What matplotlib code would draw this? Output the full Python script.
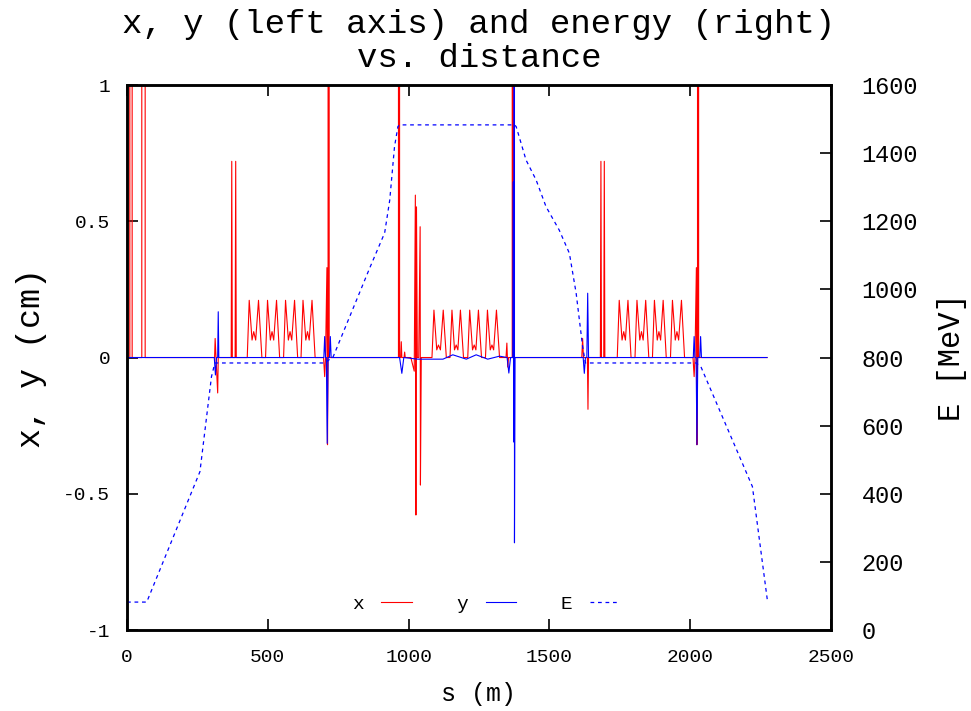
import matplotlib.pyplot as plt
import numpy as np

plt.rcParams.update({
    "font.family": ["Liberation Mono", "DejaVu Sans Mono"],
    "axes.unicode_minus": False,
    "xtick.direction": "in",
    "ytick.direction": "in",
})

# horizontal orbit x (cm) vs s (m)
s_x = [0, 10, 10.6, 17.7, 18.3, 52.5, 53, 64, 64.5,
       311, 313, 316, 322, 324,
       370, 372, 374, 384, 386, 388,
       427, 434, 444, 450, 457, 467, 479,
       492, 499, 509, 515, 521, 531, 542,
       556, 563, 573, 579, 585, 595, 606,
       618, 625, 635, 641, 647, 657, 668,
       698, 702, 705, 710, 712, 714, 716, 718,
       964, 966, 968, 972, 974, 976, 984, 986, 988,
       1008, 1020, 1024, 1026, 1028, 1031, 1036, 1041, 1042, 1045,
       1083, 1090, 1100, 1106, 1113, 1123, 1134,
       1147, 1154, 1163, 1169, 1175, 1184, 1195,
       1210, 1217, 1227, 1233, 1239, 1248, 1259,
       1273, 1280, 1290, 1296, 1302, 1312, 1323,
       1346, 1349, 1352, 1355, 1368, 1370, 1372,
       1615, 1618, 1621, 1635, 1637, 1639,
       1681, 1683, 1685, 1693, 1695, 1697,
       1741, 1748, 1758, 1764, 1770, 1779, 1790,
       1804, 1811, 1821, 1827, 1833, 1842, 1853,
       1866, 1873, 1883, 1889, 1895, 1904, 1915,
       1930, 1937, 1947, 1953, 1959, 1969, 1980,
       2010, 2014, 2017, 2022, 2024, 2026, 2028, 2030,
       2273]
x_cm = [0, 0, 50, 50, 0, 0, 50, 50, 0,
        0, 0.07, 0, -0.13, 0,
        0, 0.72, 0, 0, 0.72, 0,
        0, 0.21, 0.064, 0.095, 0.064, 0.21, 0,
        0, 0.21, 0.064, 0.095, 0.064, 0.21, 0,
        0, 0.21, 0.064, 0.095, 0.064, 0.21, 0,
        0, 0.21, 0.064, 0.095, 0.064, 0.21, 0,
        0, -0.07, 0, 0.33, -0.32, 0, 50, 0,
        0, 50, 0, 0, 0.058, 0, 0, 0.02, 0,
        0, -0.05, 0.596, -0.578, 0.553, 0, 0, 0.48, -0.468, 0,
        0, 0.174, 0.028, 0.046, 0.028, 0.174, 0,
        0, 0.174, 0.028, 0.046, 0.028, 0.174, 0,
        0, 0.174, 0.028, 0.046, 0.028, 0.174, 0,
        0, 0.174, 0.028, 0.046, 0.028, 0.174, 0,
        0, 0.053, -0.035, 0, 0, 50, 0,
        0, 0.07, 0, 0, -0.19, 0,
        0, 0.72, 0, 0, 0.72, 0,
        0, 0.21, 0.064, 0.095, 0.064, 0.21, 0,
        0, 0.21, 0.064, 0.095, 0.064, 0.21, 0,
        0, 0.21, 0.064, 0.095, 0.064, 0.21, 0,
        0, 0.21, 0.064, 0.095, 0.064, 0.21, 0,
        0, -0.07, 0, 0.33, -0.32, 0, 50, 0,
        0]

# vertical orbit y (cm) vs s (m)
s_y = [0, 310, 314, 318, 322, 324, 326,
       699, 702, 705, 708, 711, 714, 719, 722, 725,
       968, 976, 983,
       1033, 1122, 1157, 1205, 1240, 1281, 1323,
       1350, 1356, 1362, 1370, 1372, 1373, 1374, 1375, 1376, 1378,
       1620, 1624, 1628, 1633, 1636, 1639,
       2011, 2014, 2017, 2021, 2024, 2027, 2034, 2037, 2040,
       2273]
y_cm = [0, 0, -0.064, 0, 0, 0.168, 0,
        0, 0.077, 0, 0, -0.315, 0, 0, 0.077, 0,
        0, -0.058, 0,
        -0.006, -0.006, 0.01, -0.006, 0.01, -0.006, 0.005,
        0, -0.057, 0, 0, 0.645, -0.31, 0, 50, -0.68, 0,
        0, -0.058, 0, 0, 0.236, 0,
        0, 0.077, 0, 0, -0.32, 0, 0, 0.077, 0,
        0]

# beam energy (MeV) vs s (m)
s_E = [0, 70, 259, 300, 312, 702, 732, 862, 915, 933, 950, 962, 968,
       1376, 1382, 1417, 1453, 1488, 1535, 1571, 1595, 1618, 1628,
       2021, 2038, 2221, 2274]
E_MeV = [82, 82, 465, 744, 784, 784, 802, 1063, 1166, 1262, 1419, 1478, 1483,
         1483, 1478, 1380, 1321, 1243, 1174, 1106, 989, 832, 784,
         784, 773, 421, 88]

fig = plt.figure(figsize=(9.71, 7.11), dpi=100)
ax = fig.add_axes([0.1308, 0.1139, 0.725, 0.7665])
ax2 = ax.twinx()

lx, = ax.plot(s_x, x_cm, color="#ff0000", lw=0.8, label="x")
ly, = ax.plot(s_y, y_cm, color="#0000ff", lw=0.8, label="y")
lE, = ax2.plot(s_E, E_MeV, color="#0000ff", lw=0.9, ls=(0, (3, 3)), label="E")

ax.set_xlim(0, 2500)
ax.set_ylim(-1, 1)
ax2.set_ylim(0, 1600)
ax.set_xticks(np.arange(0, 2501, 500))
ax.set_yticks([-1, -0.5, 0, 0.5, 1])
ax.set_yticklabels(["-1", "-0.5", "0", "0.5", "1"])
ax2.set_yticks(np.arange(0, 1601, 200))

ax.tick_params(axis="x", top=True, length=8, width=1.2, labelsize=14, pad=14)
ax.tick_params(axis="y", left=True, right=False, length=8, width=1.2,
               labelsize=14, pad=12)
ax2.tick_params(axis="y", length=8, width=1.2, labelsize=17, pad=22)
for a in (ax, ax2):
    for sp in a.spines.values():
        sp.set_linewidth(1.8)

ax.set_xlabel("s (m)", fontsize=18, labelpad=11)
ax.set_ylabel("x, y (cm)", fontsize=24, labelpad=12)
ax2.set_ylabel("E [MeV]", fontsize=22, labelpad=14)
ax.set_title("x, y (left axis) and energy (right)\nvs. distance",
             fontsize=24.5, pad=13, linespacing=1.12)

ax.legend([lx, ly, lE], ["x", "y", "E"], loc="lower center",
          bbox_to_anchor=(0.51, 0.0), ncol=3, frameon=False, fontsize=14,
          markerfirst=False, handlelength=1.55, handletextpad=0.9,
          columnspacing=2.3)

fig.savefig("out.png", dpi=100)
